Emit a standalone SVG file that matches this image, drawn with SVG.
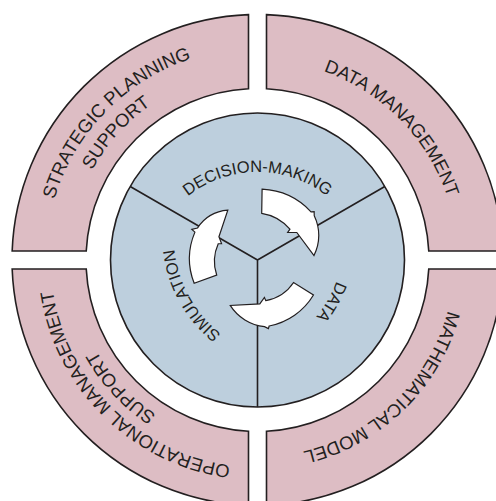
<svg xmlns="http://www.w3.org/2000/svg" width="496" height="501" viewBox="0 0 496 501">
<style>
.seg{fill:#DDBDC4;stroke:#231F20;stroke-width:1.6}
.hub{fill:#BDCFDD;stroke:#231F20;stroke-width:1.6}
.div{stroke:#231F20;stroke-width:1.6;fill:none}
.arr{fill:#fff;stroke:#231F20;stroke-width:1.2;stroke-linejoin:miter}
.ot{font-family:"Liberation Sans",Arial,sans-serif;font-size:18.5px;fill:#231F20}
.it{font-family:"Liberation Sans",Arial,sans-serif;font-size:16.5px;fill:#231F20}
</style>
<defs>
<path id="pSP" d="M 109.69 411.98 A 212 212 0 0 1 405.31 108.02"/>
<path id="pSP2" d="M 130.37 401.19 A 190 190 0 0 1 384.63 118.81"/>
<path id="pDM" d="M 117.32 117.34 A 200 200 0 0 1 397.68 402.66"/>
<path id="pMM" d="M 398.73 122.65 A 197 197 0 0 1 116.27 397.35"/>
<path id="pOM" d="M 405.15 405.09 A 207 207 0 0 1 109.85 114.91"/>
<path id="pOM2" d="M 383.67 395.3 A 185 185 0 0 1 131.33 124.7"/>
<path id="pDec" d="M 145.5 284 A 112 112 0 0 1 369.5 284"/>
<path id="pSim" d="M 357.42 344.95 A 124 124 0 0 1 237.18 128.05"/>
<path id="pData" d="M 281.93 130.39 A 124 124 0 0 1 158.67 345.61"/>
</defs>
<rect width="496" height="501" fill="#fff"/>
<g id="strategic-planning-support">
<path class="seg" d="M 12.17 251 A 245.5 245.5 0 0 1 248.5 14.67 L 248.5 88.74 A 171.5 171.5 0 0 0 86.24 251 Z"/>
<text class="ot"><textPath href="#pSP" startOffset="50%" text-anchor="middle">STRATEGIC PLANNING</textPath></text>
<text class="ot"><textPath href="#pSP2" startOffset="50%" text-anchor="middle">SUPPORT</textPath></text>
</g>
<g id="data-management">
<path class="seg" d="M 266.5 14.67 A 245.5 245.5 0 0 1 502.83 251 L 428.76 251 A 171.5 171.5 0 0 0 266.5 88.74 Z"/>
<text class="ot"><textPath href="#pDM" startOffset="50%" text-anchor="middle">DATA MANAGEMENT</textPath></text>
</g>
<g id="mathematical-model">
<path class="seg" d="M 502.83 269 A 245.5 245.5 0 0 1 266.5 505.33 L 266.5 431.26 A 171.5 171.5 0 0 0 428.76 269 Z"/>
<text class="ot"><textPath href="#pMM" startOffset="50%" text-anchor="middle">MATHEMATICAL MODEL</textPath></text>
</g>
<g id="operational-management-support">
<path class="seg" d="M 248.5 505.33 A 245.5 245.5 0 0 1 12.17 269 L 86.24 269 A 171.5 171.5 0 0 0 248.5 431.26 Z"/>
<text class="ot"><textPath href="#pOM" startOffset="50%" text-anchor="middle">OPERATIONAL MANAGEMENT</textPath></text>
<text class="ot"><textPath href="#pOM2" startOffset="50%" text-anchor="middle">SUPPORT</textPath></text>
</g>
<g id="hub">
<circle class="hub" cx="257.5" cy="260" r="147"/>
<path class="div" d="M 257.5 260 L 384.8 186.5 M 257.5 260 L 130.2 186.5 M 257.5 260 L 257.5 407"/>
</g>
<g id="decision-making">
<text class="it"><textPath href="#pDec" startOffset="50%" text-anchor="middle">DECISION-MAKING</textPath></text>
</g>
<g id="data">
<text class="it"><textPath href="#pData" startOffset="50%" text-anchor="middle">DATA</textPath></text>
</g>
<g id="simulation">
<text class="it"><textPath href="#pSim" startOffset="50%" text-anchor="middle">SIMULATION</textPath></text>
</g>
<g id="connectors">
<path class="arr" d="M 262.1 189.2 A 71.5 71.5 0 0 1 311 211.8 L 314.15 211.62 L 314.24 215.67 A 45 45 0 0 1 314 255.5 L 296.8 232.5 L 287.7 232.3 L 289.9 229.2 A 46 46 0 0 0 261.7 213.3 Z"/>
<path class="arr" d="M 194.15 283.31 A 68 68 0 0 1 194.92 232.14 L 191.79 229.36 L 197.46 228.07 A 40 40 0 0 1 227.8 210.18 L 218.93 236.82 L 221.55 243.62 L 218.23 243.74 A 43 43 0 0 0 216.68 275.02 Z"/>
<path class="arr" d="M 313.47 294.97 A 66.5 66.5 0 0 1 269.13 325.98 L 268.37 328.65 L 264.5 326.63 A 46 46 0 0 1 230.2 305.43 L 259.8 303.94 L 264.42 297.37 L 265.77 300.67 A 42 42 0 0 0 293.54 282.52 Z"/>
</g>
</svg>
